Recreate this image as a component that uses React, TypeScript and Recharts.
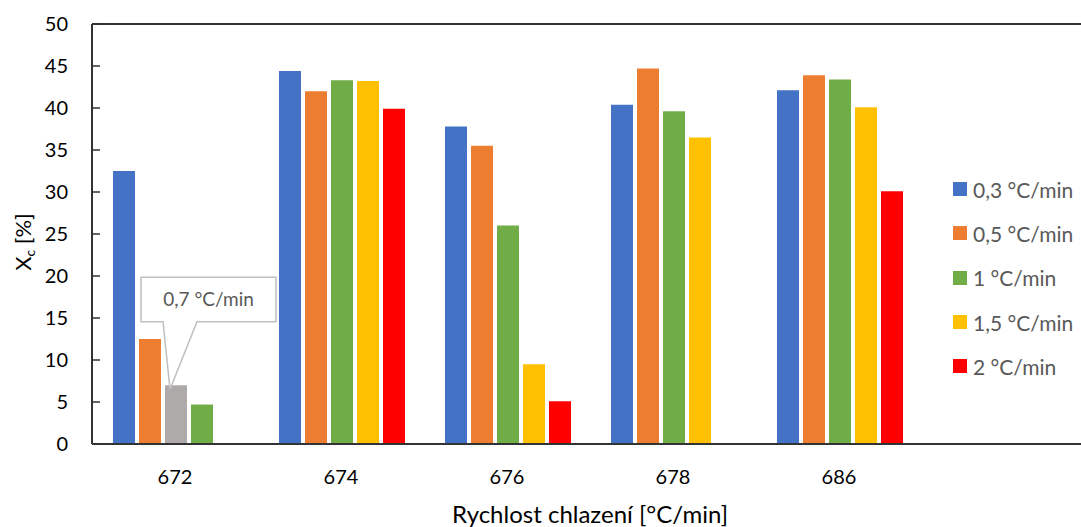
import { Bar, BarChart, Cell, LabelList, Legend, ReferenceLine, XAxis, YAxis } from 'recharts'

const categories = ['672', '674', '676', '678', '686', '']
const rate03 = [32.5, 44.4, 37.8, 40.4, 42.1, null]
const rate05 = [12.5, 42.0, 35.5, 44.7, 43.9, null]
const rate07 = [7.0, null, null, null, null, null]
const rate1 = [4.7, 43.3, 26.0, 39.6, 43.4, null]
const rate15 = [null, 43.2, 9.5, 36.5, 40.1, null]
const rate2 = [null, 39.9, 5.1, null, 30.1, null]

const seriesNames = ['0,3 °C/min', '0,5 °C/min', '0,7 °C/min', '1 °C/min', '1,5 °C/min', '2 °C/min']
const seriesColors = ['#4472C4', '#ED7D31', '#AEAAAA', '#70AD47', '#FFC000', '#FF0000']
const seriesValues = [rate03, rate05, rate07, rate1, rate15, rate2]
const legendSeries = [0, 1, 3, 4, 5]
const calloutSeries = 2
const yTicks = [0, 5, 10, 15, 20, 25, 30, 35, 40, 45, 50]
const slots = [0, 1, 2, 3, 4]

const FONT = 'Lato, "Noto Sans", sans-serif'

// each category packs its present series side by side, like the original sheet
const chartData = categories.map((cat, i) => {
  const row: Record<string, string | number> = { cat }
  let slot = 0
  seriesValues.forEach((values, s) => {
    const v = values[i]
    if (v == null) return
    row[`s${slot}`] = v
    row[`c${slot}`] = seriesColors[s]
    row[`n${slot}`] = s === calloutSeries ? seriesNames[s] : ''
    slot += 1
  })
  return row
})

function Callout(props: any) {
  const vb = props.viewBox || {}
  const bx = Number(vb.x ?? props.x)
  const by = Number(vb.y ?? props.y)
  if (!props.value) return null
  const left = bx - 24
  const right = bx + 111
  const top = by - 108
  const bottom = by - 63.5
  const d = `M${left},${top} H${right} V${bottom} H${bx + 32} L${bx + 5},${by + 4} L${bx - 2},${bottom} H${left} Z`
  return (
    <g>
      <path d={d} fill="#ffffff" stroke="#BFBFBF" strokeWidth={1.5} />
      <text x={(left + right) / 2} y={(top + bottom) / 2 + 7} textAnchor="middle" fill="#595959" fontSize={19} fontFamily={FONT}>
        {props.value}
      </text>
    </g>
  )
}

function YTitle(props: any) {
  const vb = props.viewBox
  const cx = vb.x + 31
  const cy = vb.y + vb.height / 2 + 8
  return (
    <text x={cx} y={cy} transform={`rotate(-90 ${cx} ${cy})`} textAnchor="middle" fill="#000" fontSize={22} fontFamily={FONT}>
      <tspan>X</tspan>
      <tspan fontSize={14} dy={4}>c</tspan>
      <tspan dy={-4}> [%]</tspan>
    </text>
  )
}

function XTitle(props: any) {
  const vb = props.viewBox
  return (
    <text x={vb.x + vb.width / 2} y={vb.y + 79} textAnchor="middle" fill="#000" fontSize={24} fontFamily={FONT}>
      Rychlost chlazení [°C/min]
    </text>
  )
}

function LegendBox() {
  return (
    <div style={{ fontFamily: FONT }}>
      {legendSeries.map((s) => (
        <div key={s} style={{ display: 'flex', alignItems: 'center', height: 44.3 }}>
          <span style={{ width: 14, height: 14, background: seriesColors[s], marginRight: 6, display: 'inline-block' }} />
          <span style={{ fontSize: 21, color: '#595959', whiteSpace: 'nowrap' }}>{seriesNames[s]}</span>
        </div>
      ))}
    </div>
  )
}

export default function App() {
  return (
    <div style={{ position: 'absolute', left: 0, top: 0, width: 1081, height: 527, overflow: 'hidden', background: '#fff' }}>
      <BarChart
        width={1090}
        height={527}
        data={chartData}
        margin={{ top: 24, right: 2, bottom: 0, left: 0 }}
        barGap={4}
        barCategoryGap={21}
      >
        <XAxis
          dataKey="cat"
          height={83}
          tickLine={false}
          tickSize={0}
          tickMargin={26}
          axisLine={{ stroke: '#333', strokeWidth: 2 }}
          tick={{ fill: '#000', fontSize: 20, fontFamily: FONT }}
          label={<XTitle />}
        />
        <YAxis
          width={92}
          domain={[0, 50]}
          ticks={yTicks}
          interval={0}
          tickSize={-8}
          tickMargin={32}
          tickLine={{ stroke: '#333', strokeWidth: 1.5 }}
          axisLine={{ stroke: '#333', strokeWidth: 2 }}
          tick={{ fill: '#000', fontSize: 20, fontFamily: FONT }}
          label={<YTitle />}
        />
        <ReferenceLine y={50} stroke="#333" strokeWidth={2} />
        {slots.map((k) => (
          <Bar key={k} dataKey={`s${k}`} isAnimationActive={false}>
            {chartData.map((row, i) => (
              <Cell key={i} fill={String(row[`c${k}`] ?? '#ffffff')} />
            ))}
            <LabelList dataKey={`n${k}`} content={<Callout />} />
          </Bar>
        ))}
        <Legend
          layout="vertical"
          align="center"
          verticalAlign="middle"
          wrapperStyle={{ left: 953, top: 167, width: 130 }}
          content={<LegendBox />}
        />
      </BarChart>
    </div>
  )
}
